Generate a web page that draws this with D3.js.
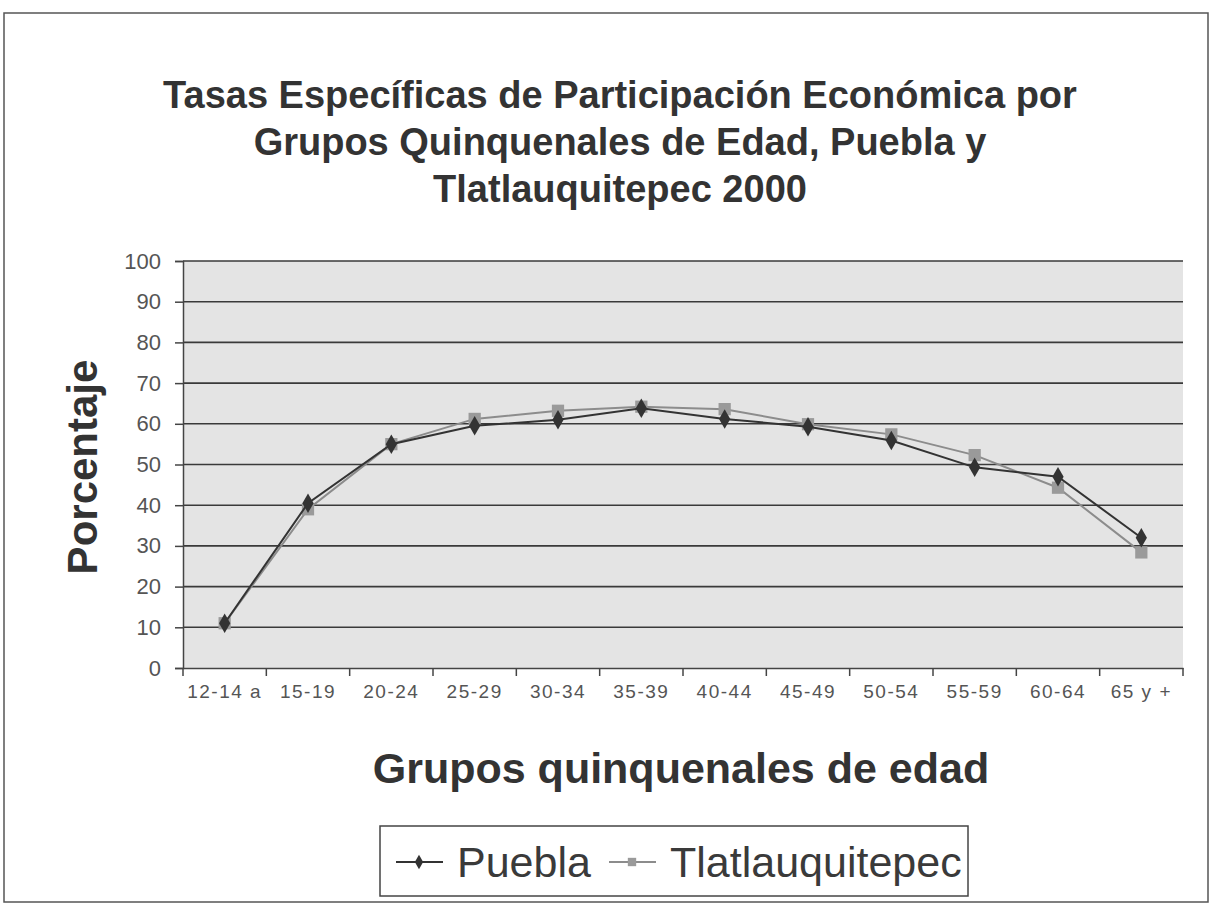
<!DOCTYPE html>
<html>
<head>
<meta charset="utf-8">
<script src="https://cdn.jsdelivr.net/npm/d3@7"></script>
<style>
  body { margin: 0; background: #fff; }
  svg text { font-family: "Liberation Sans", Arial, sans-serif; }
</style>
</head>
<body>
<svg id="chart"></svg>
<script>
// ---------- data ----------
const categories = ['12-14 a', '15-19', '20-24', '25-29', '30-34', '35-39',
                    '40-44', '45-49', '50-54', '55-59', '60-64', '65 y +'];
const puebla  = [11, 40.5, 55, 59.5, 61, 63.8, 61.2, 59.3, 55.9, 49.3, 47, 32];
const tlatla  = [11, 39, 55, 61.2, 63.2, 64.2, 63.6, 59.9, 57.4, 52.3, 44.3, 28.4];
const yTicks  = [0, 10, 20, 30, 40, 50, 60, 70, 80, 90, 100];
const titleLines = ['Tasas Específicas de Participación Económica por',
                    'Grupos Quinquenales de Edad, Puebla y',
                    'Tlatlauquitepec 2000'];

const width = 1211, height = 909;
const plot = { left: 183, right: 1183, top: 261, bottom: 668 };

const svg = d3.select('#chart')
    .attr('width', width)
    .attr('height', height);

//---------------------outer frame----------
svg.append('rect')
    .attr('x', 4).attr('y', 13)
    .attr('width', 1204).attr('height', 889)
    .attr('fill', '#fff')
    .attr('stroke', '#555')
    .attr('stroke-width', 1.5);

//---------------------scales----------
const x = d3.scaleBand()
    .domain(categories)
    .range([plot.left, plot.right]);
const y = d3.scaleLinear()
    .domain([0, 100])
    .range([plot.bottom, plot.top]);

//---------------------plot area----------
svg.append('rect')
    .attr('x', plot.left).attr('y', plot.top)
    .attr('width', plot.right - plot.left)
    .attr('height', plot.bottom - plot.top)
    .attr('fill', '#e4e4e4');

// horizontal gridlines
svg.append('g')
    .selectAll('line')
    .data(yTicks.filter(d => d > 0))
    .join('line')
      .attr('x1', plot.left).attr('x2', plot.right)
      .attr('y1', d => y(d)).attr('y2', d => y(d))
      .attr('stroke', '#3a3a3a')
      .attr('stroke-width', 1.6);

//---------------------y axis----------
const yAxis = d3.axisLeft(y)
    .tickValues(yTicks)
    .tickSize(8)
    .tickPadding(14);
svg.append('g')
    .attr('transform', `translate(${plot.left},0)`)
    .call(yAxis)
    .call(g => g.select('.domain').attr('stroke', '#444').attr('stroke-width', 1.5))
    .call(g => g.selectAll('.tick line').attr('stroke', '#444').attr('stroke-width', 1.5))
    .call(g => g.selectAll('.tick text')
        .attr('fill', '#555')
        .style('font-size', '22px'));

//---------------------x axis----------
const xAxis = d3.axisBottom(x)
    .tickSize(0)
    .tickPadding(17);
svg.append('g')
    .attr('transform', `translate(0,${plot.bottom})`)
    .call(xAxis)
    .call(g => g.select('.domain').attr('stroke', '#444').attr('stroke-width', 1.5))
    .call(g => g.selectAll('.tick text')
        .attr('fill', '#555')
        .style('font-size', '19px')
        .style('letter-spacing', '1.5px'));

// tick marks sit on category boundaries, not centers
svg.append('g')
    .selectAll('line')
    .data(categories.map(c => x(c)).concat([plot.right]))
    .join('line')
      .attr('x1', d => d).attr('x2', d => d)
      .attr('y1', plot.bottom).attr('y2', plot.bottom + 8)
      .attr('stroke', '#444')
      .attr('stroke-width', 1.5);

//---------------------series----------
const cx = i => x(categories[i]) + x.bandwidth() / 2;
const line = d3.line()
    .x((d, i) => cx(i))
    .y(d => y(d));

const series = [
  { name: 'Tlatlauquitepec', values: tlatla, color: '#8c8c8c', marker: 'square' },
  { name: 'Puebla', values: puebla, color: '#333', marker: 'diamond' }
];

const symbolFor = m => m === 'square'
    ? d3.symbol().type(d3.symbolSquare).size(150)
    : d3.symbol().type(d3.symbolDiamond).size(110);

series.forEach(s => {
  svg.append('path')
      .datum(s.values)
      .attr('d', line)
      .attr('fill', 'none')
      .attr('stroke', s.color)
      .attr('stroke-width', 2);
  svg.append('g')
    .selectAll('path')
    .data(s.values)
    .join('path')
      .attr('transform', (d, i) => `translate(${cx(i)},${y(d)})`)
      .attr('d', symbolFor(s.marker))
      .attr('fill', s.marker === 'square' ? '#9a9a9a' : '#333');
});

//---------------------title----------
svg.append('text')
    .attr('x', 620)
    .attr('y', 108)
    .attr('text-anchor', 'middle')
    .attr('fill', '#333')
    .style('font-size', '38px')
    .style('font-weight', 'bold')
  .selectAll('tspan')
  .data(titleLines)
  .join('tspan')
    .attr('x', 620)
    .attr('dy', (d, i) => i === 0 ? 0 : 47)
    .text(d => d);

//---------------------axis titles----------
svg.append('text')
    .attr('x', 681)
    .attr('y', 783)
    .attr('text-anchor', 'middle')
    .attr('fill', '#333')
    .style('font-size', '43px')
    .style('font-weight', 'bold')
    .text('Grupos quinquenales de edad');

svg.append('text')
    .attr('transform', 'translate(97,467) rotate(-90)')
    .attr('text-anchor', 'middle')
    .attr('fill', '#333')
    .style('font-size', '42px')
    .style('font-weight', 'bold')
    .text('Porcentaje');

//---------------------legend----------
const legend = svg.append('g');
legend.append('rect')
    .attr('x', 380).attr('y', 826)
    .attr('width', 588).attr('height', 70)
    .attr('fill', '#fff')
    .attr('stroke', '#444')
    .attr('stroke-width', 1.5);

const legendItems = [
  { name: 'Puebla', x: 396, color: '#333', marker: 'diamond' },
  { name: 'Tlatlauquitepec', x: 609, color: '#8c8c8c', marker: 'square' }
];
legendItems.forEach(it => {
  legend.append('line')
      .attr('x1', it.x).attr('x2', it.x + 47)
      .attr('y1', 862).attr('y2', 862)
      .attr('stroke', it.color)
      .attr('stroke-width', 2);
  legend.append('path')
      .attr('transform', `translate(${it.x + 23},862)`)
      .attr('d', symbolFor(it.marker).size(it.marker === 'square' ? 70 : 60))
      .attr('fill', it.marker === 'square' ? '#9a9a9a' : '#333');
  legend.append('text')
      .attr('x', it.x + 61)
      .attr('y', 877)
      .attr('fill', '#3a3a3a')
      .style('font-size', '43px')
      .text(it.name);
});
</script>
</body>
</html>
